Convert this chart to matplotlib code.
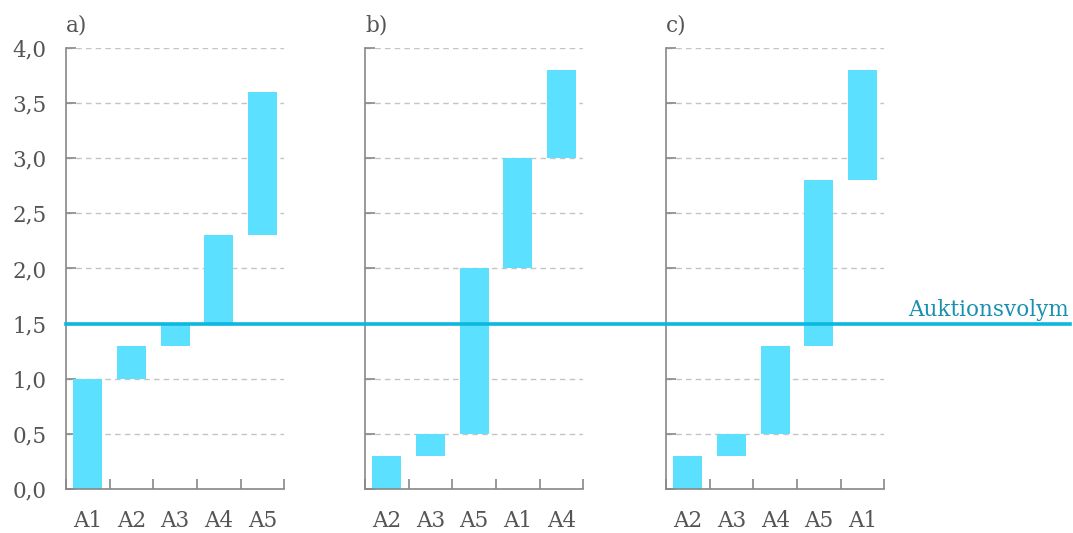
import matplotlib.pyplot as plt
from matplotlib.ticker import FuncFormatter

plt.rcParams['font.family'] = ['DejaVu Serif']

# data: ordered categories per panel, bar bottoms and tops
panels = ['a)', 'b)', 'c)']
cats_a = ['A1', 'A2', 'A3', 'A4', 'A5']
low_a = [0.0, 1.0, 1.3, 1.5, 2.3]
high_a = [1.0, 1.3, 1.5, 2.3, 3.6]
cats_b = ['A2', 'A3', 'A5', 'A1', 'A4']
low_b = [0.0, 0.3, 0.5, 2.0, 3.0]
high_b = [0.3, 0.5, 2.0, 3.0, 3.8]
cats_c = ['A2', 'A3', 'A4', 'A5', 'A1']
low_c = [0.0, 0.3, 0.5, 1.3, 2.8]
high_c = [0.3, 0.5, 1.3, 2.8, 3.8]
volume = 1.5
yticks = [0.0, 0.5, 1.0, 1.5, 2.0, 2.5, 3.0, 3.5, 4.0]

bar_col = '#5ce0ff'
line_col = '#0bb8e0'
text_col = '#555555'
spine_col = '#888888'

fig = plt.figure(figsize=(10.73, 5.33), dpi=100)
lefts = [0.0615, 0.3402, 0.6207]
data = [(cats_a, low_a, high_a), (cats_b, low_b, high_b), (cats_c, low_c, high_c)]
axes = []
for i, (cats, lo, hi) in enumerate(data):
    ax = fig.add_axes([lefts[i], 0.0826, 0.2035, 0.8274])
    axes.append(ax)
    x = range(len(cats))
    h = [t - b for b, t in zip(lo, hi)]
    ax.bar(x, h, bottom=lo, width=0.66, color=bar_col, zorder=2)
    ax.set_xlim(-0.5, len(cats) - 0.5)
    ax.set_ylim(0, 4.0)
    ax.set_yticks(yticks)
    ax.yaxis.grid(True, linestyle=(0, (4, 3)), color='#c4c4c4', linewidth=1.0, zorder=0)
    ax.set_xticks([k - 0.5 for k in range(len(cats) + 1)])
    ax.set_xticklabels([])
    ax.set_xticks(list(x), minor=True)
    ax.set_xticklabels(cats, minor=True)
    ax.tick_params(axis='x', which='major', direction='in', length=7, color=spine_col, width=1.2)
    ax.tick_params(axis='x', which='minor', length=0, pad=15, labelsize=15.5, labelcolor=text_col)
    ax.tick_params(axis='y', direction='in', length=7, color=spine_col, width=1.2,
                   labelsize=15.5, labelcolor=text_col, pad=14)
    if i > 0:
        ax.set_yticklabels([])
    else:
        ax.yaxis.set_major_formatter(FuncFormatter(lambda v, p: f'{v:.1f}'.replace('.', ',')))
    for s in ['top', 'right']:
        ax.spines[s].set_visible(False)
    for s in ['left', 'bottom']:
        ax.spines[s].set_color(spine_col)
        ax.spines[s].set_linewidth(1.2)
    ax.text(0.0, 1.025, panels[i], transform=ax.transAxes, fontsize=15.5,
            color=text_col, ha='left', va='bottom')

# auction volume line across all panels
y_fig = axes[0].transData.transform((0, volume))[1] / fig.bbox.height
fig.add_artist(plt.Line2D([lefts[0], 0.997], [y_fig, y_fig], color=line_col,
                          linewidth=2.6, zorder=5))
fig.text(0.996, y_fig + 0.004, 'Auktionsvolym', color='#1990b0', fontsize=15.5,
         ha='right', va='bottom')

fig.savefig('out.png', dpi=100)
